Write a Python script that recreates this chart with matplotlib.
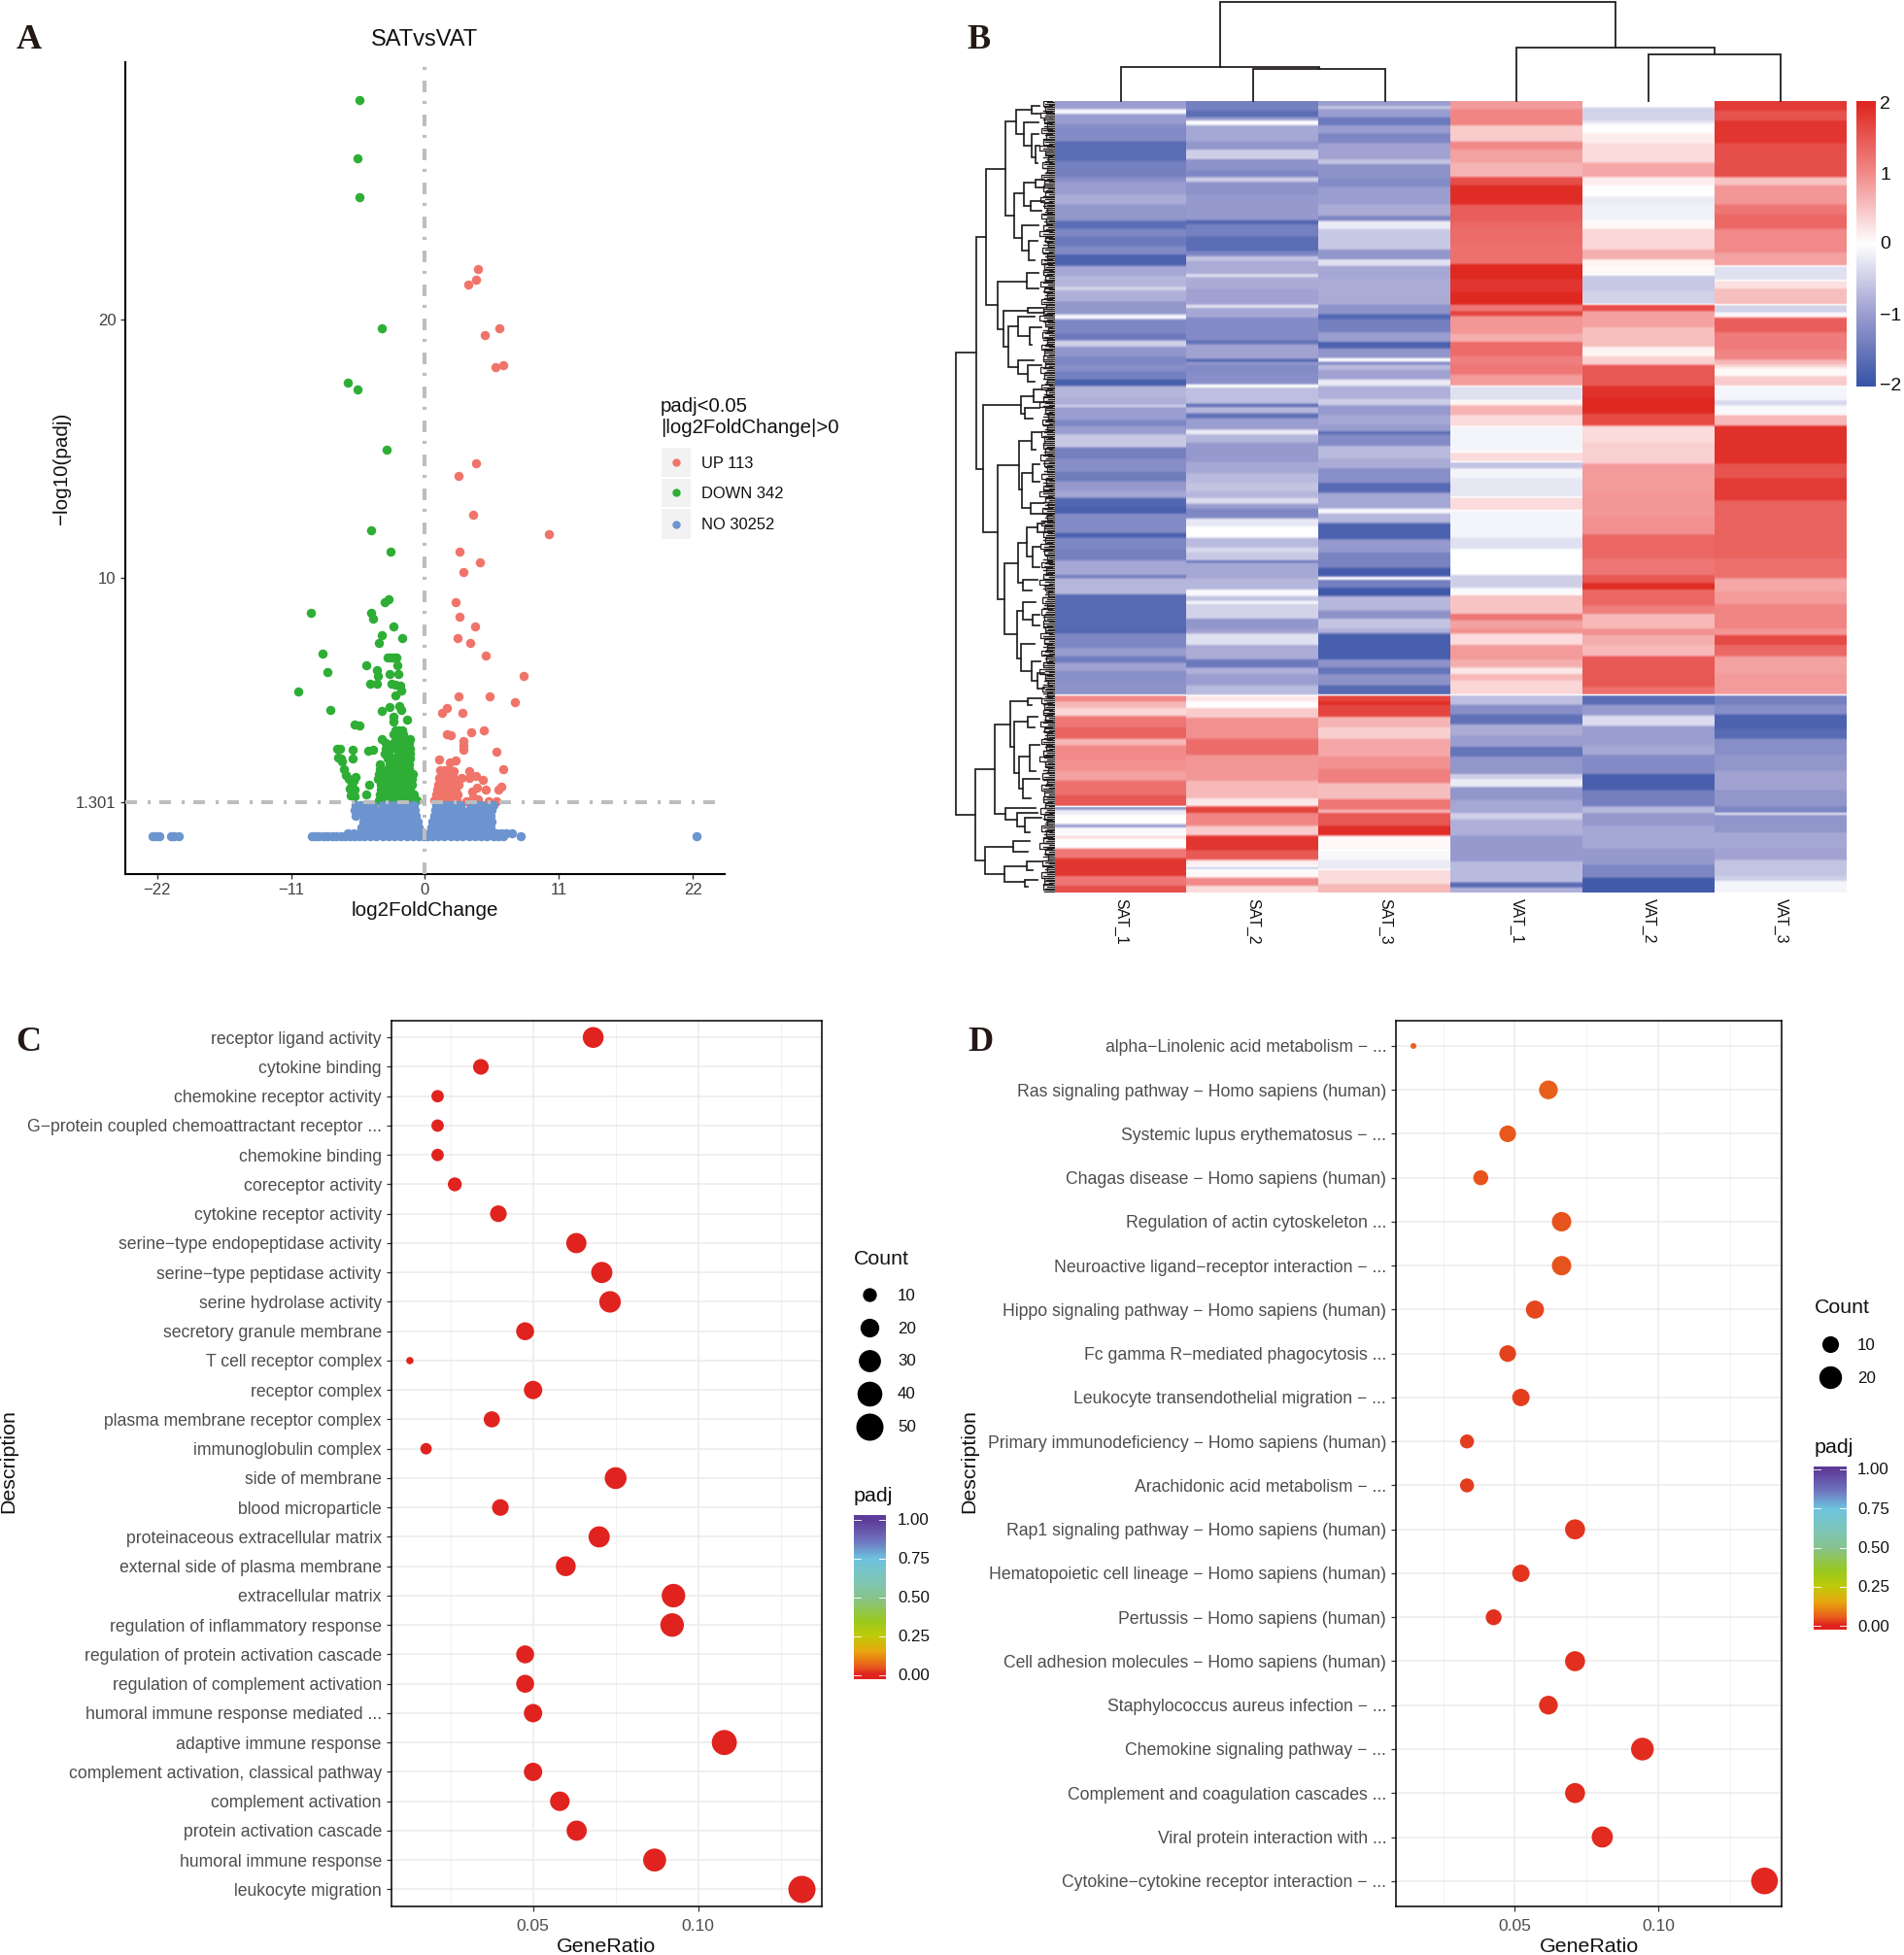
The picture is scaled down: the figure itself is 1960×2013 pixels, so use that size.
import numpy as np
import matplotlib
matplotlib.use("Agg")
import matplotlib.pyplot as plt
from matplotlib.colors import LinearSegmentedColormap
from matplotlib.patches import Rectangle

plt.rcParams['font.family'] = ['Liberation Sans', 'DejaVu Sans']
plt.rcParams['lines.scale_dashes'] = False

W, H = 1960, 2013
fig = plt.figure(figsize=(W / 100, H / 100), dpi=100, facecolor='white')
PT = 0.72


def px_axes(l, t, r, b, **kw):
    return fig.add_axes([l / W, 1 - b / H, (r - l) / W, (b - t) / H], **kw)


def ftext(x, y, s, **kw):
    kw.setdefault('ha', 'left')
    kw.setdefault('va', 'center')
    return fig.text(x / W, 1 - y / H, s, **kw)


# ---------------------------------------------------------------- A: volcano
volcano_title = "SATvsVAT"
up_x = [4.39, 4.16, 3.52, 6.13, 4.94, 6.4, 5.81, 4.21, 2.74, 3.93, 10.2, 2.84, 4.53, 3.16, 2.49, 2.81, 4.14, 2.71,
        3.69, 4.99, 8.09, 2.79, 5.33, 7.35, 1.83, 1.38, 3.05, 1.78, 2.1, 3.77, 4.83, 3.16, 3.18, 3.18, 5.84, 1.19,
        2.02, 2.52, 6.45, 3.61, 1.27, 1.67, 2.07, 2.39, 4.19, 3.66, 4.72, 2.97, 1.14, 1.54, 1.94, 2.33, 4.24, 3.85,
        4.99, 6.26, 6.0, 2.79, 3.93, 3.4, 4.32, 5.25, 5.9, 1.1, 1.4, 1.7, 2.0, 2.3, 2.6, 1.0, 1.3, 1.6, 1.9, 2.2,
        2.5, 0.9, 1.2, 1.5, 1.8, 2.1, 2.4, 2.7, 0.8, 1.1, 1.4, 1.7, 2.0, 2.3, 2.6]
up_y = [21.95, 21.53, 21.34, 19.67, 19.41, 18.24, 18.15, 14.44, 13.94, 12.46, 11.69, 11.0, 10.59, 10.21, 9.06, 8.51,
        8.11, 7.68, 7.47, 6.99, 6.21, 5.41, 5.41, 5.17, 4.96, 4.79, 4.76, 3.95, 3.91, 4.01, 4.1, 3.68, 3.48, 3.36,
        3.26, 2.96, 2.87, 2.93, 2.6, 2.5, 2.57, 2.57, 2.55, 2.5, 2.34, 2.25, 2.18, 2.24, 2.25, 2.31, 2.31, 2.25,
        1.87, 1.74, 1.8, 1.93, 1.8, 1.99, 1.49, 1.36, 1.43, 1.34, 1.34, 2.0, 2.0, 2.0, 2.0, 2.0, 2.0, 1.8, 1.8, 1.8,
        1.8, 1.8, 1.8, 1.6, 1.6, 1.6, 1.6, 1.6, 1.6, 1.6, 1.4, 1.4, 1.4, 1.4, 1.4, 1.4, 1.4]
down_x = [-5.35, -5.54, -5.40, -3.52, -6.31, -5.54, -3.11, -4.44, -2.79, -2.97, -3.32, -9.34, -4.43, -4.27, -2.55,
          -3.58, -1.88, -3.79, -8.41, -3.05, -2.79, -2.6, -2.33, -4.83, -2.25, -3.93, -8.04, -3.85, -2.89, -2.18,
          -4.54, -3.93, -2.76, -2.44, -2.02, -1.91, -2.41, -10.4, -2.1, -2.92, -3.55, -1.96, -7.8, -2.6, -1.51,
          -2.57, -5.81, -5.36, -7.21, -6.95, -5.97, -4.67, -4.3, -7.14, -6.87, -6.82, -5.97, -6.68, -6.47, -5.7,
          -6.29, -5.89, -6.02, -6.2, -5.76, -4.62, -4.83, -6.1, -5.76]
down_y = [28.5, 26.24, 24.74, 19.67, 17.54, 17.3, 14.98, 11.85, 11.0, 9.16, 9.07, 8.63, 8.63, 8.41, 8.11, 7.79, 7.65,
          7.47, 7.07, 6.93, 6.93, 6.93, 6.93, 6.61, 6.61, 6.41, 6.35, 6.2, 6.29, 6.29, 5.9, 5.89, 5.9, 5.85, 5.84,
          5.63, 5.46, 5.6, 5.05, 5.01, 4.85, 4.89, 4.89, 4.63, 4.51, 4.43, 4.33, 4.3, 3.38, 3.38, 3.36, 3.32, 3.34,
          3.06, 3.02, 2.89, 3.02, 2.58, 2.37, 2.31, 2.2, 2.15, 1.99, 1.84, 1.8, 1.98, 1.62, 1.58, 1.55]
down_cluster = [
    (4.1, [-2.45, -2.2, -1.85]), (3.95, [-2.6, -2.15, -1.8]), (3.75, [-3.55, -2.3, -2.0, -1.6, -1.25]),
    (3.6, [-3.2, -2.55, -2.2, -1.9, -1.3]), (3.4, [-3.2, -2.8, -2.3, -1.9, -1.5, -1.2]),
    (3.2, [-3.3, -3.0, -2.2, -1.9, -1.5, -1.2]), (3.0, [-3.05, -2.7, -2.4, -2.0, -1.6, -1.25]),
    (2.8, [-3.69, -2.9, -2.5, -2.1, -1.7, -1.3]), (2.6, [-3.7, -3.1, -2.7, -2.3, -1.9, -1.5, -1.3]),
    (2.4, [-3.8, -3.5, -3.1, -2.7, -2.3, -1.9, -1.5, -1.0]), (2.2, [-3.9, -3.5, -3.0, -2.6, -2.2, -1.8, -1.4, -1.1]),
    (2.0, [-3.6, -3.1, -2.7, -2.3, -1.9, -1.5, -1.1]), (1.8, [-3.6, -3.2, -2.8, -2.4, -2.0, -1.6, -1.2]),
    (1.6, [-3.7, -3.3, -2.9, -2.5, -2.1, -1.7, -1.3, -0.95]),
    (1.4, [-3.8, -3.4, -3.0, -2.6, -2.2, -1.8, -1.4, -1.0, -0.7])]
no_rows = [
    (1.22, [-5.7, -5.3, -4.7, -4.3, -3.5, -3.0, -2.5, -2.0, -1.5, -0.95, 0.95, 1.3, 1.7, 2.1, 2.5, 2.9, 3.8, 4.3, 4.7,
            5.35, 5.65]),
    (1.0, [-5.8, -5.5, -4.9, -4.5, -4.1, -3.6, -3.1, -2.6, -2.1, -1.6, -1.2, -0.85, 0.85, 1.1, 1.5, 2.0, 2.5, 3.0, 3.6,
           4.1, 4.5, 5.2, 5.5]),
    (0.8, [-5.7, -5.1, -4.6, -4.1, -3.6, -3.1, -2.6, -2.1, -1.6, -1.1, -0.75, 0.75, 1.0, 1.5, 2.0, 2.5, 3.0, 3.5, 4.0,
           4.4, 5.0, 5.4]),
    (0.55, [-5.1, -4.6, -4.1, -3.6, -3.1, -2.6, -2.1, -1.6, -1.1, -0.62, 0.6, 1.0, 1.5, 2.0, 2.5, 3.0, 3.5, 4.0, 4.5,
            5.1, 5.5]),
    (0.35, [-5.2, -4.6, -4.1, -3.6, -3.1, -2.6, -2.1, -1.6, -1.1, -0.52, 0.5, 1.0, 1.5, 2.0, 2.5, 3.0, 3.5, 4.0, 4.5,
            5.0, 5.4]),
    (0.12, [-6.3, -5.9, -5.4, -4.9, -4.4, -3.9, -3.4, -2.9, -2.4, -1.9, -1.4, -0.9, -0.42, 0.4, 0.9, 1.4, 1.9, 2.4, 2.9,
            3.4, 3.9, 4.4, 4.9, 5.4, 5.9, 6.3, 6.7, 7.16]),
    (-0.01, [-22.4, -22.1, -21.8, -20.9, -20.6, -20.2, -9.3, -9.0, -8.7, -8.3, -8.0, -7.6, -7.3, -6.9, -6.6, -6.2, -5.8,
             -5.4, -5.0, -4.5, -4.0, -3.5, -3.0, -2.5, -2.0, -1.5, -1.0, -0.5, -0.1, 0.2, 0.6, 1.1, 1.6, 2.1, 2.6, 3.1,
             3.6, 4.1, 4.6, 5.1, 5.6, 6.0, 6.4, 7.85, 22.3])]
volcano_colors = {'UP 113': '#F0746A', 'DOWN 342': '#2EAE35', 'NO 30252': '#6C94CE'}
volcano_xticks = [-22, -11, 0, 11, 22]
volcano_yticks = [1.301, 10, 20]
threshold = 1.301

ax = px_axes(128.6, 64, 746, 900)
ax.set_xlim(-24.65, 24.63)
ax.set_ylim(-1.466, 29.96)
S_V = (9.5 * PT) ** 2
ax.scatter(up_x, up_y, s=S_V, color=volcano_colors['UP 113'], lw=0, zorder=2)
ax.scatter(down_x, down_y, s=S_V, color=volcano_colors['DOWN 342'], lw=0, zorder=2)
cx = [x for y, xs in down_cluster for x in xs]
cy = [y for y, xs in down_cluster for x in xs]
ax.scatter(cx, cy, s=S_V, color=volcano_colors['DOWN 342'], lw=0, zorder=2)
nx = [x for y, xs in no_rows for x in xs]
ny = [y for y, xs in no_rows for x in xs]
ax.scatter(nx, ny, s=S_V, color=volcano_colors['NO 30252'], lw=0, zorder=3)
dash = (0, (8.6, 8, 2.2, 6.4))
ax.axhline(threshold, color='#BDBDBD', lw=2.9, ls=dash, zorder=4)
ax.axvline(0, color='#BDBDBD', lw=2.9, ls=dash, zorder=4)
for s in ('top', 'right'):
    ax.spines[s].set_visible(False)
for s in ('left', 'bottom'):
    ax.spines[s].set_linewidth(1.5)
ax.set_xticks(volcano_xticks)
ax.set_xticklabels(['\u2212' + str(-v) if v < 0 else str(v) for v in volcano_xticks])
ax.set_yticks(volcano_yticks)
ax.set_yticklabels(['1.301', '10', '20'])
ax.tick_params(length=3.6, width=1, color='#333333', labelcolor='#404040', labelsize=12, pad=3)
ftext(437, 41, volcano_title, ha='center', fontsize=17, color='#111111')
ftext(437, 938, 'log2FoldChange', ha='center', fontsize=14.9, color='#111111')
ftext(63, 482.5, '\u2212log10(padj)', ha='center', rotation=90, fontsize=14.9, color='#111111')
ftext(680, 418.5, 'padj<0.05', fontsize=14.7, color='#111111')
ftext(680, 441, '|log2FoldChange|>0', fontsize=14.7, color='#111111')
for (lab, col), top, bot in zip(volcano_colors.items(), (461, 492.5, 524), (491, 522, 555)):
    fig.patches.append(Rectangle((681 / W, 1 - bot / H), 30 / W, (bot - top) / H, transform=fig.transFigure,
                                 color='#F2F2F2', lw=0))
    fig.add_artist(plt.Line2D([696 / W], [1 - (top + bot) / 2 / H], marker='o', ms=8.8 * PT * 0.95, color=col, lw=0,
                              mew=0, transform=fig.transFigure))
    ftext(722, (top + bot) / 2 + 1, lab, fontsize=11.9, color='#111111')

# ---------------------------------------------------------------- B: heatmap
# Each part is (last row of the band, z-score); three parts per sample.
SAT_1 = [
    [(25, -1.0), (40, -0.1), (70, -1.0), (85, -1.2), (125, -1.25), (135, -1.7), (185, -1.65), (235, -1.4), (250, -1.2),
     (290, -1.0), (320, -0.85), (370, -1.1), (395, -1.65), (420, -1.3), (450, -1.5), (475, -1.25), (510, -1.8),
     (540, -0.9), (575, -0.75), (585, -0.4), (620, -0.8), (660, -1.1), (675, -0.1), (720, -1.3), (740, -1.5),
     (760, -0.5), (790, -1.1), (816, -1.3)],
    [(20, -1.2), (45, -1.4), (65, -1.85), (100, -0.75), (125, -0.8), (130, -0.3), (170, -1.0), (190, -1.3), (215, -1.0),
     (255, -0.55), (290, -1.4), (305, -1.2), (330, -1.2), (360, -1.45), (390, -1.05), (412, -0.9), (440, -1.75),
     (460, -1.85), (520, -1.25), (535, -1.8), (570, -1.3), (605, -1.4), (650, -0.9), (660, -1.4), (710, -0.75),
     (816, -1.7)],
    [(15, -1.75), (60, -1.3), (85, -1.0), (105, -1.45), (130, -0.95), (160, -1.2), (205, -1.15), (225, 1.0), (245, 0.6),
     (270, 0.35), (305, 1.2), (340, 1.4), (360, 0.6), (405, 1.0), (440, 0.95), (470, 0.8), (515, 1.25), (550, 1.5),
     (560, -1.2), (575, -0.2), (605, 0.0), (615, -1.0), (640, -0.05), (650, 0.3), (680, 0.0), (710, 1.2), (765, 1.85),
     (795, 1.2), (816, 1.6)]]
SAT_2 = [
    [(30, -1.4), (50, -1.65), (60, -1.0), (75, -0.05), (125, -0.9), (150, -1.1), (180, -0.5), (215, -1.15), (235, -1.3),
     (250, -0.5), (290, -1.15), (368, -1.05), (380, -1.75), (420, -1.4), (465, -1.65), (480, -1.3), (495, -0.6),
     (535, -0.85), (545, -0.35), (580, -0.85), (630, -0.95), (640, -0.3), (670, -0.9), (740, -1.25), (752, -1.6),
     (798, -0.95), (806, -1.8), (816, -1.1)],
    [(25, -1.25), (60, -1.2), (70, 0.0), (120, -0.65), (130, -1.6), (150, -0.75), (165, -1.6), (200, -1.0), (215, -0.2),
     (240, -0.75), (300, -1.05), (335, -0.9), (365, -0.7), (390, -0.6), (412, -0.75), (430, -0.35), (445, -1.0),
     (475, -1.3), (500, -0.25), (535, 0.0), (565, -0.7), (580, -0.4), (605, -0.55), (612, -1.5), (660, -0.9),
     (695, -0.75), (715, -0.05), (730, -0.6), (740, -0.1), (785, -0.45), (816, -1.1)],
    [(15, -0.95), (50, -0.3), (95, -0.85), (120, -1.5), (140, -0.8), (175, -1.0), (205, -0.7), (225, 0.2), (245, 0.0),
     (275, 0.45), (340, 0.95), (390, 1.3), (470, 0.9), (525, 0.6), (550, 0.2), (570, 1.7), (610, 1.05), (640, 0.45),
     (685, 1.85), (715, 1.5), (735, 0.15), (745, -0.4), (770, 0.05), (795, 1.0), (816, 0.3)]]
SAT_3 = [
    [(15, -1.0), (25, -0.6), (50, -1.0), (75, -1.5), (100, -1.0), (130, -1.3), (180, -0.95), (195, -0.6), (240, -1.15),
     (265, -1.25), (320, -1.0), (355, -0.85), (370, -1.3), (395, -0.2), (460, -0.55), (490, -1.1), (510, -0.3),
     (550, -0.9), (630, -0.85), (660, -1.15), (675, -1.75), (715, -1.4), (745, -1.0), (765, -1.8), (795, -1.1),
     (806, 0.0), (816, -1.2)],
    [(15, -0.7), (45, -0.95), (65, -0.2), (105, -0.8), (125, -0.5), (155, -1.05), (185, -0.9), (205, -1.0), (215, -1.65),
     (250, -1.25), (290, -0.7), (320, -0.85), (365, -1.2), (395, -1.7), (445, -0.9), (460, -0.05), (490, -0.75),
     (540, -1.8), (580, -1.05), (628, -1.35), (655, -1.9), (665, 0.0), (690, -1.4), (715, -1.95), (760, -0.75),
     (785, -1.15), (816, -0.6)],
    [(15, -0.8), (95, -1.85), (120, -1.15), (140, -1.55), (175, -1.15), (205, -1.7), (225, 1.7), (235, 1.95), (272, 1.7),
     (305, 0.65), (340, 0.4), (395, 0.75), (435, 0.95), (478, 1.1), (528, 0.55), (560, 1.2), (570, 0.6), (610, 1.5),
     (640, 1.95), (685, 0.05), (715, -0.05), (745, -0.2), (790, 0.3), (816, 0.6)]]
VAT_1 = [
    [(25, 0.85), (75, 1.05), (125, 0.45), (150, 1.0), (190, 0.8), (235, 0.65), (260, 1.6), (320, 1.95), (370, 1.45),
     (395, 1.35), (450, 1.3), (505, 1.25), (550, 2.0), (590, 1.85), (630, 2.0), (650, 1.2), (665, 1.7), (720, 0.9),
     (745, 0.7), (790, 1.3), (816, 1.1)],
    [(30, 1.2), (65, 0.85), (110, -0.3), (125, 0.1), (155, 0.65), (190, 0.3), (270, -0.1), (300, 0.3), (320, -0.6),
     (350, -0.1), (410, -0.25), (450, 0.3), (535, -0.1), (570, -0.3), (650, 0.0), (690, -0.5), (712, -0.05), (770, 0.5),
     (790, 1.2), (816, 0.8)],
    [(15, 0.95), (50, 0.3), (95, 0.85), (120, 0.7), (140, 0.2), (160, 0.6), (205, 0.35), (235, -0.65), (265, -1.2),
     (295, -1.6), (330, -0.85), (365, -1.0), (395, -1.55), (450, -1.1), (465, -0.5), (490, -0.2), (530, -1.1),
     (570, -0.9), (590, -0.5), (640, -0.8), (720, -1.05), (785, -0.7), (800, -1.7), (816, -0.8)]]
VAT_2 = [
    [(20, 0.0), (60, -0.45), (70, -0.25), (100, 0.0), (130, 0.15), (190, 0.3), (235, 0.75), (260, 0.15), (295, 0.0),
     (320, -0.2), (370, -0.15), (395, 0.05), (460, 0.35), (490, 0.7), (510, 0.1), (540, 0.05), (590, -0.55),
     (630, -0.45), (650, 1.6), (700, 0.8), (760, 0.55), (790, 0.1), (816, 0.4)],
    [(65, 1.5), (100, 1.9), (150, 2.0), (188, 1.65), (240, 0.3), (305, 0.4), (390, 0.85), (470, 0.9), (525, 0.95),
     (600, 1.35), (650, 1.2), (675, 1.5), (695, 1.95), (745, 1.35), (770, 1.1), (816, 0.6)],
    [(20, 0.95), (50, 0.7), (85, 0.6), (180, 1.5), (205, 1.25), (235, -1.65), (268, -1.05), (300, -0.35), (360, -1.0),
     (390, -0.9), (450, -1.25), (500, -1.85), (550, -1.4), (570, -0.7), (610, -1.05), (680, -0.9), (730, -1.05),
     (770, -1.3), (816, -1.9)]]
VAT_3 = [
    [(30, 1.8), (60, 1.55), (130, 1.85), (235, 1.6), (260, 0.5), (320, 0.9), (350, 1.2), (395, 1.35), (470, 1.0),
     (510, 0.8), (555, -0.3), (580, 0.25), (630, 0.55), (655, -0.45), (670, 0.1), (715, 1.45), (770, 1.15), (800, 1.05),
     (816, 0.6)],
    [(10, 0.3), (35, 0.05), (65, 0.45), (110, -0.1), (125, -0.4), (155, -0.05), (188, 0.6), (305, 1.9), (350, 1.55),
     (420, 1.8), (600, 1.4), (660, 1.25), (700, 0.75), (740, 0.85), (816, 1.05)],
    [(20, 0.9), (50, 1.65), (85, 1.35), (140, 0.8), (205, 0.85), (235, -1.4), (265, -1.2), (310, -1.8), (340, -1.7),
     (390, -1.2), (440, -1.1), (500, -0.95), (550, -1.1), (570, -1.3), (575, 0.0), (630, -1.1), (680, -0.9), (715, -0.95),
     (765, -0.6), (780, -0.5), (816, -0.1)]]
samples = ['SAT_1', 'SAT_2', 'SAT_3', 'VAT_1', 'VAT_2', 'VAT_3']
heat_ticks = [2, 1, 0, -1, -2]


def build_column(parts):
    col = np.zeros(816 * 3)
    for k, part in enumerate(parts):
        start = 0
        for end, val in part:
            col[816 * k + start:816 * k + end] = val
            start = end
    # soften the band edges by about two pixels, as in the printed image
    padded = np.pad(col, 4, mode='edge')
    return np.convolve(padded, np.ones(9) / 9, mode='valid')


heat = np.column_stack([build_column(c) for c in (SAT_1, SAT_2, SAT_3, VAT_1, VAT_2, VAT_3)])
heat_cmap = LinearSegmentedColormap.from_list(
    'heat', [(0, '#3A55A8'), (0.25, '#9C9ED0'), (0.5, '#FFFFFF'), (0.75, '#F28B8B'), (1, '#DF2820')])
HL, HT, HR, HB = 1086, 104, 1901, 919
ax = px_axes(HL, HT, HR, HB)
ax.imshow(heat, aspect='auto', cmap=heat_cmap, vmin=-2, vmax=2, interpolation='nearest', extent=(0, 6, 2448, 0))
ax.set_xticks([])
ax.set_yticks([])
for s in ax.spines.values():
    s.set_visible(False)
for i, name in enumerate(samples):
    ftext(HL + (i + 0.5) * 135.83, 925, name, rotation=-90, ha='center', va='top', fontsize=11.4, color='#111111')

ax = px_axes(1911, 104, 1931, 398)
ax.imshow(np.linspace(2.03, -2.03, 300)[:, None], aspect='auto', cmap=heat_cmap, vmin=-2, vmax=2,
          extent=(0, 1, -2.03, 2.03))
ax.axis('off')
for v, y in zip(heat_ticks, (107, 180, 252, 325, 397)):
    ftext(1935, y, str(v).replace('-', '\u2212'), fontsize=14, color='#111111')

# column dendrogram heights
col_merge_heights = {'SAT_2+SAT_3': 33, 'SAT': 35, 'VAT_2+VAT_3': 48, 'VAT': 55, 'root': 102.5}
DCOL = '#231F20'
ax = px_axes(HL, 0, HR, HT)
ax.set_xlim(0, 6)
ax.set_ylim(0, 104)
ax.axis('off')


def bracket_up(ax, x1, h1, x2, h2, h):
    ax.plot([x1, x1, x2, x2], [h1, h, h, h2], color=DCOL, lw=1.3, solid_joinstyle='miter', clip_on=False)
    return (x1 + x2) / 2


a = bracket_up(ax, 1.5, 0, 2.5, 0, col_merge_heights['SAT_2+SAT_3'])
sat = bracket_up(ax, 0.5, 0, a, col_merge_heights['SAT_2+SAT_3'], col_merge_heights['SAT'])
b = bracket_up(ax, 4.5, 0, 5.5, 0, col_merge_heights['VAT_2+VAT_3'])
vat = bracket_up(ax, 3.5, 0, b, col_merge_heights['VAT_2+VAT_3'], col_merge_heights['VAT'])
bracket_up(ax, sat, col_merge_heights['SAT'], vat, col_merge_heights['VAT'], col_merge_heights['root'])

# row dendrogram: (node depth, top row, top child depth, bottom row, bottom child depth)
row_brackets = [
    (27, 778, 91, 2208, 87), (91, 420, 120, 1138, 110), (120, 211, 180, 631, 156), (180, 63, 213, 355, 208),
    (213, 28, 260, 101, 237), (260, 16, 285, 40, 285), (237, 66, 282, 138, 260), (260, 101, 283, 173, 272),
    (272, 138, 285, 193, 278), (208, 286, 238, 425, 231), (238, 252, 273, 323, 258), (273, 243, 300, 268, 300),
    (258, 310, 300, 340, 290), (231, 385, 282, 463, 252), (252, 433, 280, 493, 270), (156, 558, 246, 705, 174),
    (246, 533, 282, 580, 282), (174, 648, 248, 761, 189), (248, 641, 300, 656, 300), (189, 698, 220, 823, 220),
    (220, 668, 270, 726, 255), (255, 700, 290, 753, 262), (220, 803, 268, 843, 248), (248, 818, 290, 868, 270),
    (110, 940, 228, 1333, 156), (228, 913, 268, 966, 240), (268, 893, 295, 930, 300), (240, 950, 285, 983, 265),
    (156, 1126, 222, 1541, 178), (222, 1050, 262, 1200, 232), (262, 1023, 290, 1078, 272), (232, 1150, 265, 1258, 258),
    (265, 1123, 285, 1178, 285), (258, 1243, 300, 1278, 300), (178, 1430, 218, 1650, 216), (218, 1366, 245, 1490, 235),
    (245, 1318, 278, 1408, 263), (278, 1306, 300, 1333, 300), (263, 1378, 288, 1443, 285), (235, 1480, 280, 1513, 260),
    (216, 1578, 234, 1723, 228), (234, 1550, 272, 1603, 265), (265, 1588, 285, 1623, 285), (228, 1678, 270, 1763, 260),
    (260, 1733, 288, 1793, 278), (278, 1768, 300, 1818, 300), (87, 2066, 146, 2348, 117), (146, 1928, 195, 2206, 181),
    (195, 1856, 248, 1996, 208), (248, 1846, 290, 1868, 262), (208, 1918, 248, 2078, 222), (248, 1905, 280, 1938, 270),
    (222, 2026, 255, 2128, 235), (255, 1990, 285, 2073, 272), (235, 2098, 285, 2156, 258), (181, 2188, 272, 2223, 215),
    (215, 2203, 280, 2243, 240), (240, 2218, 290, 2263, 255), (117, 2306, 205, 2390, 177), (205, 2290, 255, 2323, 250),
    (177, 2366, 245, 2416, 240), (245, 2353, 290, 2378, 265), (240, 2408, 280, 2430, 250)]
twig_rows = [8, 26, 44, 60, 78, 92, 110, 128, 146, 160, 180, 198, 214, 236, 254, 270, 288, 304, 322, 338, 356, 372, 392,
             410, 428, 444, 462, 480, 498, 514, 530, 548, 566, 584, 602, 620, 636, 652, 672, 690, 708, 724, 744, 762,
             780, 796, 814, 832, 850, 866, 884, 902, 920, 938, 956, 974, 992, 1010, 1030, 1048, 1066, 1084, 1102, 1120,
             1140, 1160, 1178, 1196, 1214, 1232, 1250, 1268, 1288, 1306, 1324, 1342, 1360, 1378, 1396, 1414, 1434, 1452,
             1470, 1488, 1506, 1524, 1544, 1562, 1580, 1598, 1616, 1634, 1654, 1672, 1690, 1708, 1726, 1744, 1764, 1782,
             1800, 1818, 1836, 1854, 1872, 1890, 1908, 1926, 1944, 1962, 1980, 1998, 2016, 2034, 2052, 2070, 2088, 2106,
             2124, 2142, 2160, 2178, 2196, 2214, 2232, 2250, 2268, 2286, 2304, 2322, 2340, 2358, 2376, 2394, 2412, 2430]
twig_depths = [296, 304, 288, 300, 310, 292, 306, 298, 284, 302, 312, 294, 308, 290, 300]
leaf_starts = [310, 304, 314, 300, 308, 298, 312, 306, 302, 316, 296]
n_genes = 455

ax = px_axes(975, HT, HL, HB)
ax.set_xlim(0, 333)
ax.set_ylim(2448, 0)
ax.axis('off')
for d, r1, d1, r2, d2 in row_brackets:
    ax.plot([d1, d, d, d2], [r1, r1, r2, r2], color=DCOL, lw=1.25, solid_joinstyle='miter')
for i, r in enumerate(twig_rows):
    d = twig_depths[i % len(twig_depths)]
    ax.plot([325, d, d, 325], [r - 8, r - 8, r + 8, r + 8], color=DCOL, lw=0.9)
for i in range(n_genes):
    r = (i + 0.5) * 2448 / n_genes
    ax.plot([leaf_starts[i % len(leaf_starts)], 333], [r, r], color=DCOL, lw=1.0)

# ---------------------------------------------------------------- C, D: dot plots
padj_cmap = LinearSegmentedColormap.from_list('padj', [
    (0.0, '#E0231F'), (0.05, '#E85B1C'), (0.15, '#E8A70F'), (0.25, '#BFCB0A'), (0.35, '#99C81F'), (0.5, '#88C38F'),
    (0.6, '#7FC6B4'), (0.75, '#6EC3DF'), (0.87, '#6F73BE'), (1.0, '#5E3C99')])

go_terms = ['receptor ligand activity', 'cytokine binding', 'chemokine receptor activity',
            'G\u2212protein coupled chemoattractant receptor ...', 'chemokine binding', 'coreceptor activity',
            'cytokine receptor activity', 'serine\u2212type endopeptidase activity', 'serine\u2212type peptidase activity',
            'serine hydrolase activity', 'secretory granule membrane', 'T cell receptor complex', 'receptor complex',
            'plasma membrane receptor complex', 'immunoglobulin complex', 'side of membrane', 'blood microparticle',
            'proteinaceous extracellular matrix', 'external side of plasma membrane', 'extracellular matrix',
            'regulation of inflammatory response', 'regulation of protein activation cascade',
            'regulation of complement activation', 'humoral immune response mediated ...', 'adaptive immune response',
            'complement activation, classical pathway', 'complement activation', 'protein activation cascade',
            'humoral immune response', 'leukocyte migration']
go_ratio = [.0682, .0342, .0211, .0211, .0211, .0263, .0395, .0631, .0708, .0733, .0476, .0127, .05, .0375, .0176, .075,
            .0401, .07, .0599, .0925, .0921, .0476, .0476, .05, .1079, .05, .0581, .0632, .0868, .1314]
go_count = [26, 13, 8, 8, 8, 10, 15, 24, 27, 28, 18, 5, 19, 14, 7, 29, 15, 27, 23, 35, 35, 18, 18, 19, 41, 19, 22, 24, 33, 50]
go_padj = [0.003] * 30

kegg_terms = ['alpha\u2212Linolenic acid metabolism \u2212 ...', 'Ras signaling pathway \u2212 Homo sapiens (human)',
              'Systemic lupus erythematosus \u2212 ...', 'Chagas disease \u2212 Homo sapiens (human)',
              'Regulation of actin cytoskeleton ...', 'Neuroactive ligand\u2212receptor interaction \u2212 ...',
              'Hippo signaling pathway \u2212 Homo sapiens (human)', 'Fc gamma R\u2212mediated phagocytosis ...',
              'Leukocyte transendothelial migration \u2212 ...', 'Primary immunodeficiency \u2212 Homo sapiens (human)',
              'Arachidonic acid metabolism \u2212 ...', 'Rap1 signaling pathway \u2212 Homo sapiens (human)',
              'Hematopoietic cell lineage \u2212 Homo sapiens (human)', 'Pertussis \u2212 Homo sapiens (human)',
              'Cell adhesion molecules \u2212 Homo sapiens (human)', 'Staphylococcus aureus infection \u2212 ...',
              'Chemokine signaling pathway \u2212 ...', 'Complement and coagulation cascades ...',
              'Viral protein interaction with ...', 'Cytokine\u2212cytokine receptor interaction \u2212 ...']
kegg_ratio = [.0146, .0617, .0475, .0381, .0663, .0663, .057, .0475, .0521, .0333, .0333, .071, .0521, .0426, .071, .0617,
              .0945, .071, .0805, .1371]
kegg_count = [3, 13, 10, 8, 14, 14, 12, 10, 11, 7, 7, 15, 11, 9, 15, 13, 20, 15, 17, 29]
kegg_padj = [.055, .055, .047, .046, .044, .044, .033, .03, .026, .024, .024, .018, .016, .014, .012, .012, .01, .01, .008,
             .004]
legend_counts_go = [10, 20, 30, 40, 50]
legend_counts_kegg = [10, 20]
padj_ticks = [0.0, 0.25, 0.5, 0.75, 1.0]


def diam(c, cmin, cmax, dmin, dmax):
    return dmin + (dmax - dmin) * np.sqrt((np.asarray(c, float) - cmin) / (cmax - cmin))


def dotplot(box, xlim, terms, ratio, count, padj, crange, drange, desc_x, ratio_x):
    l, t, r, b = box
    ax = px_axes(l, t, r, b)
    n = len(terms)
    ys = np.arange(n, 0, -1)
    ax.set_xlim(*xlim)
    ax.set_ylim(0.42, n + 0.58)
    ax.set_xticks([0.05, 0.10])
    ax.set_xticklabels(['0.05', '0.10'])
    ax.set_xticks([0.025, 0.075, 0.125], minor=True)
    ax.set_yticks(ys)
    ax.set_yticklabels(terms)
    ax.grid(True, which='major', color='#EBEBEB', lw=1.15, zorder=0)
    ax.grid(True, which='minor', axis='x', color='#EFEFEF', lw=0.6, zorder=0)
    ax.set_axisbelow(True)
    d = diam(count, crange[0], crange[1], *drange)
    ax.scatter(ratio, ys, s=(d * PT) ** 2, c=padj, cmap=padj_cmap, vmin=0, vmax=1, lw=0, zorder=3, clip_on=False)
    for s in ax.spines.values():
        s.set_linewidth(1.1)
    ax.tick_params(which='major', length=3.6, width=0.9, color='#333333', labelcolor='#4D4D4D', labelsize=12.7, pad=3.4)
    ax.tick_params(which='minor', length=0)
    ax.tick_params(axis='x', labelsize=12.5, pad=6)
    ftext(ratio_x, 2005, 'GeneRatio', ha='center', fontsize=15.4, color='#111111')
    ftext(desc_x, 1505, 'Description', ha='center', rotation=90, fontsize=15.4, color='#111111')


def legends(title_x, marker_x, label_x, count_y, key_ys, counts, crange, drange, padj_y, bar, tick_ys):
    ftext(title_x, count_y + 1, 'Count', fontsize=15.4, color='#111111')
    for c, y in zip(counts, key_ys):
        d = float(diam(c, crange[0], crange[1], *drange))
        fig.add_artist(plt.Line2D([marker_x / W], [1 - y / H], marker='o', ms=d * PT, color='black', lw=0, mew=0,
                                  transform=fig.transFigure))
        ftext(label_x, y + 1, str(c), fontsize=12.2, color='#111111')
    ftext(title_x, padj_y + 1, 'padj', fontsize=15.4, color='#111111')
    bl, bt, br, bb = bar
    v1 = 1 + (tick_ys[4] - bt) / (tick_ys[0] - tick_ys[4])
    v0 = -(bb - tick_ys[0]) / (tick_ys[0] - tick_ys[4])
    ax = px_axes(bl, bt, br, bb)
    ax.imshow(np.linspace(v1, v0, 300)[:, None], aspect='auto', cmap=padj_cmap, vmin=0, vmax=1, extent=(0, 1, v0, v1))
    ax.axis('off')
    for v, y in zip(padj_ticks, tick_ys):
        ax.plot([0, 0.2], [v, v], color='white', lw=0.7, alpha=0.9)
        ax.plot([0.8, 1], [v, v], color='white', lw=0.7, alpha=0.9)
        ftext(label_x, y + 1, f'{v:.2f}', fontsize=12.2, color='#111111')
    ax.set_xlim(0, 1)
    ax.set_ylim(v0, v1)


dotplot((402.5, 1050.7, 845.6, 1963), (0.00699, 0.1373), go_terms, go_ratio, go_count, go_padj, (5, 50), (7.5, 28), 9,
        624)
legends(879, 895, 924, 1296, (1333.4, 1367.3, 1401, 1435, 1469), legend_counts_go, (5, 50), (7.5, 28), 1540,
        (879, 1560, 912, 1729), (1724.6, 1684.7, 1644.8, 1604.9, 1565))
dotplot((1436.9, 1050.7, 1834.4, 1963), (0.00847, 0.1432), kegg_terms, kegg_ratio, kegg_count, kegg_padj, (3, 29), (6, 27.5),
        997.5, 1635.6)
legends(1867.5, 1883.7, 1912, 1346, (1384, 1418), legend_counts_kegg, (3, 29), (6, 27.5), 1489,
        (1867, 1510, 1901, 1678), (1674, 1633.7, 1593.5, 1553.2, 1513))

# ---------------------------------------------------------------- panel letters
for letter, x, y in (('A', 30, 41), ('B', 1008, 41), ('C', 29, 1073), ('D', 1009, 1073)):
    ftext(x, y, letter, ha='center', family='Liberation Serif', weight='bold', fontsize=26, color='#231815')

fig.savefig('out.png', dpi=100, facecolor='white')
